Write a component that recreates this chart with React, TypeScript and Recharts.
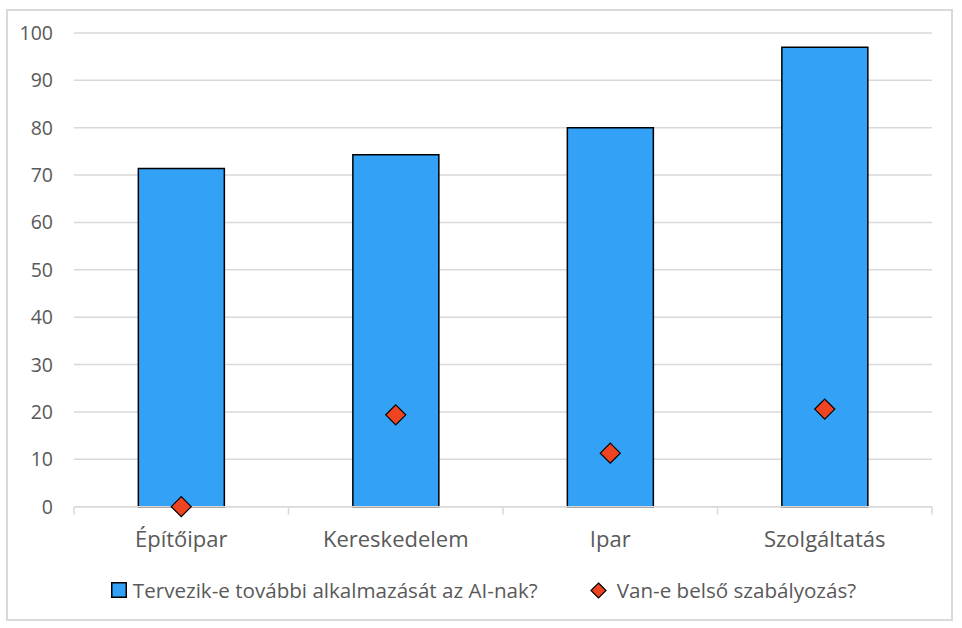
import React from 'react';
import {
  ComposedChart,
  Bar,
  Line,
  XAxis,
  YAxis,
  CartesianGrid,
  Legend
} from 'recharts';

const sectors = ['Építőipar', 'Kereskedelem', 'Ipar', 'Szolgáltatás'];
const plannedAI = [71.4, 74.3, 80.0, 97.0];
const internalRules = [0, 19.4, 11.3, 20.6];
const yTicks = [0, 10, 20, 30, 40, 50, 60, 70, 80, 90, 100];

const barName = 'Tervezik-e további alkalmazását az AI-nak?';
const markerName = 'Van-e belső szabályozás?';

const FONT = '"Open Sans", sans-serif';
const TEXT = '#595959';
const GRID = '#d9d9d9';
const BLUE = '#33a1f6';
const RED = '#ee4422';

const data = sectors.map((sector, i) => ({
  sector,
  planned: plannedAI[i],
  rules: internalRules[i]
}));

// category label plus the boundary tick marks Excel draws between categories
function CategoryTick(props: any) {
  const { x, y, payload, index } = props;
  const half = payload.offset || 0;
  const axisY = y - 25;
  return (
    <g>
      <line x1={x - half} x2={x - half} y1={axisY} y2={axisY + 8} stroke={GRID} strokeWidth={1.5} />
      {index === sectors.length - 1 && (
        <line x1={x + half} x2={x + half} y1={axisY} y2={axisY + 8} stroke={GRID} strokeWidth={1.5} />
      )}
      <text x={x} y={y} dy="0.71em" textAnchor="middle" fill={TEXT} fontSize={22} fontFamily={FONT}>
        {payload.value}
      </text>
    </g>
  );
}

function Diamond(props: any) {
  const { cx, cy } = props;
  if (cx == null || cy == null) return <g />;
  const r = 10;
  return (
    <polygon
      points={`${cx},${cy - r} ${cx + r},${cy} ${cx},${cy + r} ${cx - r},${cy}`}
      fill={RED}
      stroke="#000"
      strokeWidth={1.2}
    />
  );
}

function LegendContent() {
  return (
    <div
      style={{
        display: 'flex',
        justifyContent: 'center',
        alignItems: 'center',
        fontFamily: FONT,
        fontSize: 20.6,
        color: TEXT,
        paddingLeft: 8
      }}
    >
      <svg width={16} height={16}>
        <rect x={0.75} y={0.75} width={14.5} height={14.5} fill={BLUE} stroke="#000" strokeWidth={1.5} />
      </svg>
      <span style={{ marginLeft: 6 }}>{barName}</span>
      <svg width={17} height={17} style={{ marginLeft: 52 }}>
        <polygon points="8.5,1 16,8.5 8.5,16 1,8.5" fill={RED} stroke="#000" strokeWidth={1.2} />
      </svg>
      <span style={{ marginLeft: 10 }}>{markerName}</span>
    </div>
  );
}

export default function App() {
  return (
    <div
      style={{
        position: 'absolute',
        left: 6,
        top: 9,
        width: 947,
        height: 612,
        border: `2px solid ${GRID}`,
        boxSizing: 'border-box',
        background: '#fff'
      }}
    >
      <ComposedChart
        width={943}
        height={608}
        data={data}
        margin={{ top: 22, right: 19, bottom: 62.3, left: 0 }}
        barCategoryGap="30%"
      >
        <CartesianGrid vertical={false} stroke={GRID} strokeWidth={1.5} />
        <XAxis
          dataKey="sector"
          height={50}
          axisLine={{ stroke: GRID, strokeWidth: 1.5 }}
          tickLine={false}
          tickSize={0}
          tickMargin={25}
          interval={0}
          tick={<CategoryTick />}
        />
        <YAxis
          width={66}
          domain={[0, 100]}
          ticks={yTicks}
          axisLine={false}
          tickLine={false}
          tickSize={0}
          tickMargin={21}
          tick={{ fill: TEXT, fontSize: 19.5, fontFamily: FONT }}
        />
        <Bar
          dataKey="planned"
          name={barName}
          fill={BLUE}
          stroke="#000"
          strokeWidth={1.5}
          isAnimationActive={false}
        />
        <Line
          dataKey="rules"
          name={markerName}
          stroke="none"
          dot={<Diamond />}
          activeDot={false}
          isAnimationActive={false}
        />
        <Legend
          verticalAlign="middle"
          align="center"
          content={<LegendContent />}
          wrapperStyle={{ top: 565, left: 0, width: 943 }}
        />
      </ComposedChart>
    </div>
  );
}
